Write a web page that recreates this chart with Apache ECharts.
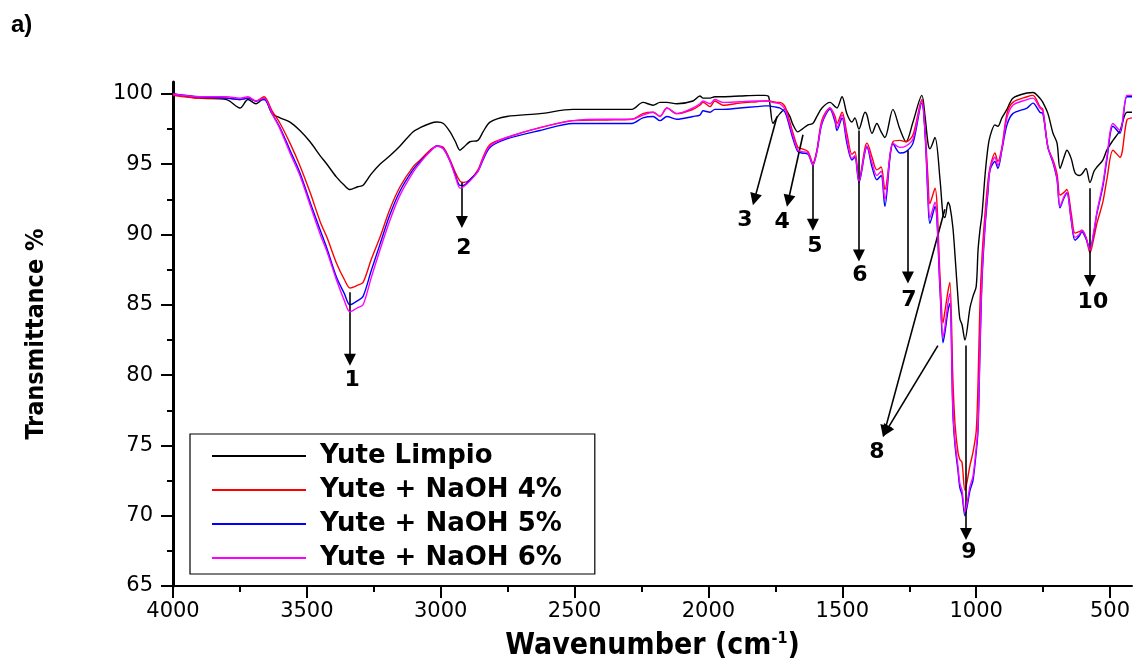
<!DOCTYPE html>
<html>
<head>
<meta charset="utf-8">
<title>FTIR Yute</title>
<script src="https://cdn.jsdelivr.net/npm/echarts@6/dist/echarts.min.js"></script>
<style>
html, body { margin: 0; padding: 0; background: #fff; }
#chart { width: 1141px; height: 667px; }
</style>
</head>
<body>
<div id="chart"></div>
<script>
// wavenumber grid (cm-1), shared by all four spectra
var wavenumber = [4000, 3900, 3800, 3750, 3720, 3690, 3660, 3630, 3600, 3563, 3526, 3488, 3450, 3425, 3390, 3360, 3339, 3310, 3290, 3260,
    3227, 3190, 3152, 3104, 3077, 3040, 3014, 2990, 2965, 2945, 2928, 2915, 2891, 2861, 2842, 2816, 2753, 2629, 2506, 2379,
    2286, 2245, 2207, 2181, 2155, 2118, 2058, 2032, 2020, 1994, 1976, 1946, 1882, 1819, 1789, 1775, 1759, 1745, 1733, 1714,
    1696, 1684, 1666, 1650, 1628, 1610, 1595, 1576, 1546, 1527, 1520, 1501, 1483, 1464, 1453, 1438, 1415, 1408, 1389, 1371,
    1355, 1341, 1311, 1285, 1262, 1236, 1203, 1191, 1180, 1173, 1154, 1135, 1124, 1117, 1105, 1098, 1087, 1079, 1068, 1061,
    1053, 1042, 1023, 1012, 1000, 993, 986, 978, 967, 956, 948, 930, 919, 904, 885, 863, 810, 788, 762, 751,
    732, 713, 698, 687, 672, 661, 645, 631, 615, 605, 590, 575, 560, 549, 527, 512, 489, 463, 437, 418];

var limpio = [100, 99.7, 99.6, 99.0, 99.6, 99.3, 99.7, 98.6, 98.3, 98.0, 97.4, 96.6, 95.6, 95.0, 94.1, 93.5, 93.2, 93.4, 93.5, 94.3,
    95.0, 95.6, 96.3, 97.3, 97.6, 97.9, 98.0, 97.9, 97.3, 96.6, 96.0, 96.2, 96.6, 96.7, 97.3, 98.0, 98.4, 98.6, 98.9, 98.9,
    98.9, 99.4, 99.2, 99.4, 99.4, 99.3, 99.5, 99.85, 99.7, 99.7, 99.8, 99.8, 99.85, 99.9, 99.9, 99.8, 97.9, 98.3, 98.6, 98.9,
    98.4, 97.8, 97.3, 97.5, 97.8, 97.9, 98.4, 99.0, 99.4, 99.1, 99.0, 99.8, 98.6, 98.0, 98.3, 97.5, 98.7, 98.5, 97.2, 97.9,
    97.3, 96.9, 98.9, 97.5, 96.6, 98.0, 99.9, 98.4, 96.5, 96.1, 96.9, 93.9, 91.4, 91.2, 92.3, 92.0, 90.5, 88.5, 85.5, 84.0,
    83.6, 82.5, 84.8, 85.6, 86.3, 88.9, 90.3, 91.5, 94.2, 96.2, 97.0, 97.8, 97.7, 98.3, 98.9, 99.7, 100.07, 100.1, 99.7, 99.4,
    98.6, 97.2, 96.5, 94.7, 95.5, 96.0, 95.4, 94.4, 94.2, 94.3, 94.7, 93.7, 94.5, 94.8, 95.3, 96.0, 96.7, 97.4, 98.7, 98.7];

var naoh4 = [99.9, 99.7, 99.7, 99.6, 99.7, 99.5, 99.8, 98.8, 97.9, 96.5, 94.9, 93.0, 90.9, 89.8, 88.0, 86.8, 86.2, 86.4, 86.6, 88.2,
    89.8, 91.8, 93.4, 94.8, 95.3, 96.0, 96.3, 96.2, 95.3, 94.4, 93.8, 93.7, 93.9, 94.6, 95.5, 96.4, 96.9, 97.6, 98.1, 98.15,
    98.2, 98.6, 98.7, 98.4, 99.0, 98.6, 98.9, 99.2, 99.4, 99.1, 99.5, 99.2, 99.35, 99.45, 99.5, 99.5, 99.45, 99.4, 99.4, 99.1,
    98.0, 97.2, 96.2, 96.1, 95.9, 95.1, 96.0, 98.15, 99.0, 98.4, 97.9, 98.7, 97.2, 95.7, 95.9, 93.9, 96.2, 96.5, 95.5, 94.6,
    94.8, 93.2, 96.6, 96.7, 96.6, 97.1, 99.6, 97.4, 94.0, 92.2, 93.3, 87.0, 83.7, 84.5, 86.0, 86.6, 79.7, 76.5, 74.5, 74.0,
    73.8, 71.8, 73.6, 74.5, 76.0, 79.5, 85.0, 88.5, 91.5, 93.8, 94.8, 95.8, 95.2, 96.2, 98.6, 99.4, 99.8, 99.9, 99.1, 98.9,
    96.2, 95.3, 94.3, 92.8, 93.0, 93.2, 91.5, 90.1, 90.2, 90.3, 89.8, 88.7, 89.8, 90.8, 92.3, 93.9, 96.0, 95.5, 98.15, 98.3];

var naoh5 = [100, 99.8, 99.7, 99.6, 99.7, 99.5, 99.6, 98.6, 97.6, 96.0, 94.4, 92.3, 90.3, 89.0, 87.0, 85.8, 85.0, 85.3, 85.6, 87.4,
    89.3, 91.4, 93.1, 94.6, 95.2, 95.9, 96.3, 96.1, 95.2, 94.2, 93.5, 93.5, 93.9, 94.5, 95.3, 96.2, 96.8, 97.4, 97.9, 97.9,
    97.9, 98.3, 98.4, 98.1, 98.4, 98.2, 98.4, 98.5, 98.8, 98.7, 98.9, 98.9, 99.0, 99.1, 99.15, 99.15, 99.1, 99.05, 99.0, 98.7,
    97.6, 96.8, 95.9, 95.8, 95.7, 94.95, 95.9, 97.9, 98.9, 98.0, 97.4, 98.3, 96.5, 95.3, 95.5, 93.7, 95.9, 96.2, 94.8, 93.9,
    94.2, 92.0, 96.5, 95.8, 95.9, 96.5, 99.35, 97.2, 92.5, 90.8, 92.0, 86.0, 82.3, 83.0, 84.6, 85.1, 77.3, 75.0, 73.2, 72.0,
    71.5, 70.0, 71.8, 72.5, 74.5, 76.1, 81.5, 86.8, 90.5, 93.0, 94.6, 95.2, 94.7, 96.0, 97.8, 98.6, 99.0, 99.35, 98.7, 98.6,
    96.2, 95.1, 93.9, 91.9, 92.6, 92.95, 91.0, 89.6, 89.9, 90.2, 89.7, 89.0, 90.2, 91.5, 93.4, 95.3, 97.7, 97.2, 99.8, 99.8];

var naoh6 = [100, 99.8, 99.8, 99.7, 99.8, 99.5, 99.7, 98.6, 97.5, 95.8, 94.2, 92.1, 90.0, 88.8, 86.8, 85.3, 84.5, 84.8, 85.0, 86.9,
    88.9, 91.0, 92.8, 94.4, 95.1, 95.9, 96.3, 96.1, 95.2, 94.1, 93.3, 93.4, 93.8, 94.5, 95.4, 96.3, 96.9, 97.6, 98.1, 98.2,
    98.2, 98.5, 98.7, 98.4, 99.0, 98.6, 99.0, 99.3, 99.5, 99.3, 99.6, 99.4, 99.45, 99.5, 99.5, 99.5, 99.4, 99.35, 99.3, 98.9,
    97.8, 97.0, 96.0, 95.9, 95.8, 94.95, 95.9, 98.0, 99.0, 98.2, 97.6, 98.5, 96.8, 95.4, 95.6, 93.8, 96.0, 96.3, 95.1, 94.2,
    94.5, 92.5, 96.5, 96.2, 96.3, 96.8, 99.5, 97.3, 93.0, 91.2, 92.3, 86.3, 82.7, 83.4, 85.2, 85.8, 77.6, 75.3, 73.5, 72.3,
    71.8, 70.3, 72.1, 72.8, 74.8, 76.5, 82.0, 87.2, 90.8, 93.3, 94.7, 95.5, 94.9, 96.1, 98.3, 99.2, 99.6, 99.7, 99.0, 98.8,
    96.2, 95.2, 94.0, 92.0, 92.7, 93.0, 91.1, 89.8, 90.0, 90.3, 89.8, 88.9, 90.3, 91.6, 93.6, 95.5, 97.9, 97.4, 99.9, 99.9];

var seriesNames = ['Yute Limpio', 'Yute + NaOH 4%', 'Yute + NaOH 5%', 'Yute + NaOH 6%'];
var seriesColors = ['#000000', '#ff0000', '#0000ff', '#ff00ff'];

var xTicks = [4000, 3500, 3000, 2500, 2000, 1500, 1000, 500];
var xMinorTicks = [3750, 3250, 2750, 2250, 1750, 1250, 750];
var yTicks = [65, 70, 75, 80, 85, 90, 95, 100];
var yMinorTicks = [67.5, 72.5, 77.5, 82.5, 87.5, 92.5, 97.5];

// band annotations: label text and where it sits
var bandNames = ['1', '2', '3', '4', '5', '6', '7', '8', '9', '10'];
var bandLabelAt = [[3331, 79.65], [2913, 89.0], [1864, 91.0], [1725, 90.9], [1602, 89.2], [1434, 87.1], [1251, 85.3], [1371, 74.5], [1027, 67.4], [564, 85.2]];
// arrows (band 8 has two)
var arrowFrom = [[3339, 85.9], [2921, 93.7], [1744, 98.4], [1647, 97.1], [1610, 95.0], [1438, 97.4], [1255, 96.0], [1117, 91.8], [1143, 82.1], [1038, 82.1], [575, 93.3]];
var arrowTo = [[3339, 81.1], [2921, 90.9], [1828, 92.5], [1702, 92.4], [1610, 90.7], [1438, 88.5], [1255, 86.95], [1342, 76.0], [1337, 76.0], [1038, 68.7], [575, 86.7]];

function toPairs(values) {
    return wavenumber.map(function (w, i) {
        return [w, values[i]];
    });
}

var chart = echarts.init(document.getElementById('chart'));

var tickFont = 'DejaVu Sans';
var titleFont = '"Liberation Sans Narrow", "DejaVu Sans Condensed", "Liberation Sans", sans-serif';

var spectra = [limpio, naoh4, naoh5, naoh6].map(function (values, i) {
    return {
        name: seriesNames[i],
        type: 'line',
        xAxisIndex: 0,
        yAxisIndex: 0,
        data: toPairs(values),
        showSymbol: false,
        symbol: 'none',
        smooth: 0.3,
        color: seriesColors[i],
        lineStyle: { width: 1.4, color: seriesColors[i] },
        z: 2 + i
    };
});

var annotations = {
    name: 'bands',
    type: 'scatter',
    xAxisIndex: 0,
    yAxisIndex: 0,
    symbolSize: 0.01,
    itemStyle: { color: '#000', opacity: 1 },
    data: bandLabelAt.map(function (p, i) {
        return { name: bandNames[i], value: p };
    }),
    label: {
        show: true,
        position: 'inside',
        formatter: '{b}',
        color: '#000',
        opacity: 1,
        fontFamily: tickFont,
        fontWeight: 'bold',
        fontSize: 22
    },
    markLine: {
        silent: true,
        symbol: ['none', 'triangle'],
        symbolSize: 12,
        label: { show: false },
        lineStyle: { color: '#000', width: 1.6, type: 'solid', opacity: 1 },
        data: arrowFrom.map(function (p, i) {
            return [{ coord: p }, { coord: arrowTo[i] }];
        })
    },
    z: 10
};

var option = {
    animation: false,
    backgroundColor: '#fff',
    title: {
        text: 'a)',
        left: 6,
        top: 8,
        textStyle: { fontFamily: 'Liberation Sans', fontWeight: 'bold', fontSize: 24, color: '#000' }
    },
    grid: { left: 173, right: 9, top: 82, bottom: 81 },
    legend: {
        data: seriesNames.map(function (n) {
            return { name: n, icon: 'rect' };
        }),
        formatter: function (name) {
            return ' ' + name;
        },
        orient: 'vertical',
        left: 190,
        top: 434,
        backgroundColor: '#fff',
        borderColor: '#000',
        borderWidth: 1.2,
        padding: [9, 33, 3, 22],
        itemWidth: 94,
        itemHeight: 2,
        itemGap: 8,
        textStyle: {
            fontFamily: tickFont,
            fontWeight: 'bold',
            fontSize: 26,
            lineHeight: 26,
            color: '#000'
        }
    },
    xAxis: [{
        type: 'value',
        inverse: true,
        min: 418,
        max: 4000,
        position: 'bottom',
        name: 'Wavenumber (cm{sup|-1})',
        nameLocation: 'middle',
        nameGap: 45,
        nameTextStyle: {
            fontFamily: titleFont,
            fontWeight: 'bold',
            fontSize: 30,
            color: '#000',
            rich: {
                sup: { fontFamily: titleFont, fontWeight: 'bold', fontSize: 16, verticalAlign: 'top', padding: [0, 0, 12, 0] }
            }
        },
        axisLine: { lineStyle: { color: '#000', width: 2 } },
        axisTick: { customValues: xTicks, length: 12, lineStyle: { color: '#000', width: 2 } },
        axisLabel: {
            customValues: xTicks,
            margin: 15,
            fontFamily: tickFont,
            fontSize: 21,
            color: '#000',
            formatter: function (v) { return String(v); }
        },
        splitLine: { show: false }
    }, {
        type: 'value',
        inverse: true,
        min: 418,
        max: 4000,
        position: 'bottom',
        axisLine: { show: false },
        axisTick: { customValues: xMinorTicks, length: 6, lineStyle: { color: '#000', width: 2 } },
        axisLabel: { show: false },
        splitLine: { show: false }
    }],
    yAxis: [{
        type: 'value',
        min: 65,
        max: 100.85,
        position: 'left',
        name: 'Transmittance %',
        nameLocation: 'middle',
        nameGap: 124,
        nameTextStyle: { fontFamily: titleFont, fontWeight: 'bold', fontSize: 25, color: '#000' },
        axisLine: { lineStyle: { color: '#000', width: 3 } },
        axisTick: { customValues: yTicks, length: 12, lineStyle: { color: '#000', width: 2 } },
        axisLabel: { customValues: yTicks, margin: 20, fontFamily: tickFont, fontSize: 21, color: '#000' },
        splitLine: { show: false }
    }, {
        type: 'value',
        min: 65,
        max: 100.85,
        position: 'left',
        axisLine: { show: false },
        axisTick: { customValues: yMinorTicks, length: 6, lineStyle: { color: '#000', width: 2 } },
        axisLabel: { show: false },
        splitLine: { show: false }
    }],
    series: spectra.concat([annotations])
};

chart.setOption(option);
window.addEventListener('resize', function () {
    chart.resize();
});
</script>
</body>
</html>
